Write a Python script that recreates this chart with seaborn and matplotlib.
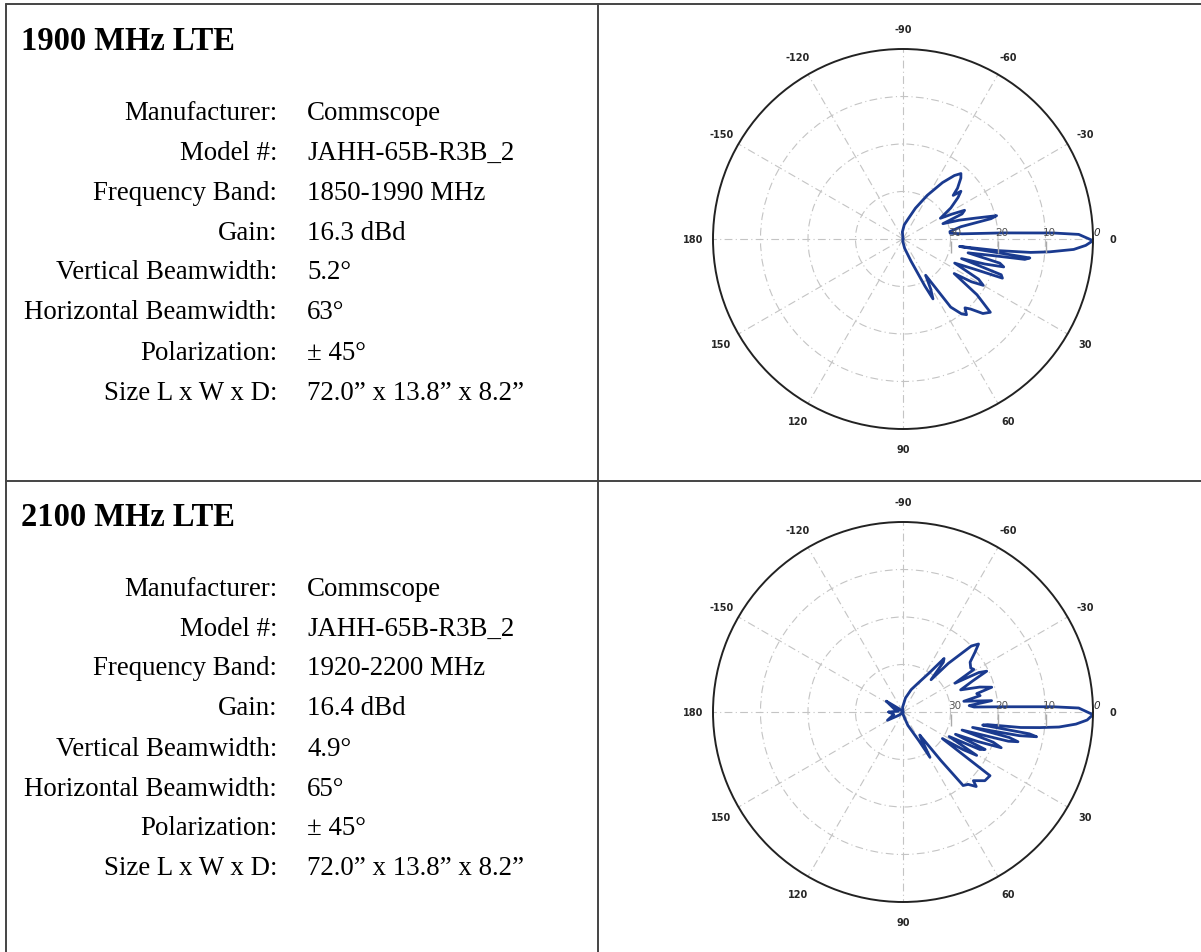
import numpy as np
import seaborn as sns
import matplotlib.pyplot as plt
from matplotlib.lines import Line2D
from matplotlib.transforms import offset_copy

# Antenna spec sheets (two bands)
TITLES = ['1900 MHz LTE', '2100 MHz LTE']
FIELD_NAMES = ['Manufacturer:', 'Model #:', 'Frequency Band:', 'Gain:', 'Vertical Beamwidth:',
               'Horizontal Beamwidth:', 'Polarization:', 'Size L x W x D:']
VALUES_1900 = ['Commscope', 'JAHH-65B-R3B_2', '1850-1990 MHz', '16.3 dBd', '5.2°', '63°', '± 45°',
               '72.0” x 13.8” x 8.2”']
VALUES_2100 = ['Commscope', 'JAHH-65B-R3B_2', '1920-2200 MHz', '16.4 dBd', '4.9°', '65°', '± 45°',
               '72.0” x 13.8” x 8.2”']

# Elevation patterns: angle (deg) and relative gain (dB)
ANGLE_1900 = [-180, -120, -95, -85, -75, -68, -61, -55, -51, -48.5,
              -46.5, -43, -41, -39.5, -37, -33, -29, -27, -25, -23,
              -21, -18.5, -16, -14, -13, -12, -9, -7, -5, -3.5,
              -2.3, -1.5, 0.5, 2, 3.5, 5, 6, 7, 7.5, 8.5,
              9.5, 10.5, 12, 14, 15.5, 17, 18.5, 20, 21.5, 23,
              25, 28, 30, 32, 34, 37, 40, 43, 46, 48,
              50, 52, 55, 58, 61, 63.4, 65, 70, 80, 95,
              120, 180]
GAIN_1900 = [-40, -40, -38.5, -37, -35.5, -33, -29.5, -25.5, -22.8, -21.6,
             -22.3, -24.3, -26, -24.2, -25.5, -28, -31, -28.5, -25.7, -26.5,
             -31, -27.5, -24, -19.7, -21, -27.5, -30, -30, -27.5, -19,
             -8.4, -3, 0, -1.5, -4, -9, -13, -20, -28, -13,
             -14, -21, -26, -19, -18, -22, -27, -18, -17.5, -24,
             -28, -22, -20.5, -23, -27, -20.5, -16, -17, -19.5, -20.5,
             -19.2, -20, -22.5, -31, -28, -25.9, -29, -35, -38, -39.5,
             -40, -40]

ANGLE_2100 = [-180, -170, -160, -147, -140, -120, -95, -80, -70, -62,
              -56, -52.5, -51, -49, -47, -44, -42, -39.7, -36.6, -33,
              -31, -29, -27.5, -26, -24, -21, -18, -15.6, -14, -12,
              -10, -7.3, -5.5, -4, -3, -2, -1.3, 0.8, 2.5, 4,
              5.5, 6.5, 7.5, 8.5, 9.3, 9.8, 10.5, 11.5, 12.5, 13.5,
              14.5, 15.5, 17, 18.5, 20, 21.5, 23, 24.5, 26, 28,
              30.5, 32, 34, 36.2, 40, 44.3, 45.5, 48, 50.7, 52,
              54, 56, 59.2, 61, 70, 90, 120, 140, 152, 165,
              180]
GAIN_2100 = [-37, -39, -38, -35.8, -39, -40, -39, -37, -35, -33,
             -30, -25.8, -26.5, -31, -26, -20, -18.6, -20.3, -22.4, -23,
             -22.6, -27.5, -22, -20.4, -24, -27, -23, -20.6, -24, -23.4,
             -27, -21.2, -26, -25, -19, -8.4, -3, 0, -1.2, -3.5,
             -7, -11, -15, -22, -23, -13, -11.4, -15, -25, -17,
             -15, -17, -27, -20, -18, -23, -28, -21, -22, -29,
             -22, -25, -30, -17.3, -17.5, -19.3, -18, -19.5, -20, -27,
             -34, -33, -28.9, -33, -37, -39.5, -40, -39, -36.3, -38,
             -37]

ANGLE_TICKS = [0, 30, 60, 90, 120, 150, 180, -150, -120, -90, -60, -30]
RING_DB = [-30, -20, -10]
RING_LABELS = ['30', '20', '10']
DB_FLOOR = -40

PATTERN_BLUE = '#1a3a8f'
W, H = 1201, 953


def fx(px):
    return px / W


def fy(py):
    return 1 - py / H


def draw_specs(fig, title, values, top):
    fig.text(fx(21), fy(top + 41), title, fontsize=23.5, fontweight='bold', va='center', ha='left',
             color='black')
    for i, (name, val) in enumerate(zip(FIELD_NAMES, values)):
        y = fy(top + 113 + 40 * i)
        fig.text(fx(277), y, name, fontsize=19.4, ha='right', va='center', color='black')
        fig.text(fx(307), y, val, fontsize=19.4, ha='left', va='center', color='black')


def draw_pattern(fig, angles, gains, cy):
    r_px = 190
    ax = fig.add_axes([fx(903 - r_px), fy(cy + r_px), 2 * r_px / W, 2 * r_px / H], projection='polar')
    ax.set_theta_zero_location('E')
    ax.set_theta_direction(-1)

    theta = np.radians(angles)
    r = np.clip(np.array(gains) - DB_FLOOR, 0, None)
    sns.lineplot(x=theta, y=r, sort=False, estimator=None, ax=ax, color=PATTERN_BLUE, lw=2.0)
    ax.set_xlabel('')
    ax.set_ylabel('')

    ax.set_ylim(0, -DB_FLOOR)
    ax.set_rgrids([db - DB_FLOOR for db in RING_DB], labels=[''] * len(RING_DB))
    ax.set_thetagrids(np.arange(0, 360, 30), labels=[''] * 12)
    ax.grid(True, color='#c4c4c4', lw=0.8, linestyle=(0, (7, 3, 1, 3)))
    ax.spines['polar'].set_color('#222222')
    ax.spines['polar'].set_linewidth(1.4)

    # angle labels outside the circle
    for a in ANGLE_TICKS:
        ax.text(np.radians(a), -DB_FLOOR * 1.105, str(a), ha='center', va='center',
                fontsize=7, fontweight='bold', family='DejaVu Sans', clip_on=False)

    # ring labels and small ticks along the 0 deg axis
    above = offset_copy(ax.transData, fig=fig, x=4, y=7, units='dots')
    below = offset_copy(ax.transData, fig=fig, y=-8, units='dots')
    for db, lab in zip(RING_DB, RING_LABELS):
        ax.text(0, db - DB_FLOOR, lab, transform=above, ha='center', va='center',
                fontsize=7.5, color='#555555', family='DejaVu Sans')
        ax.plot([0], [db - DB_FLOOR], marker='|', ms=8, color='#aaaaaa', transform=below, clip_on=False)
    ax.text(0, -DB_FLOOR, '0', transform=above, ha='center', va='center', fontsize=7.5,
            style='italic', family='DejaVu Sans', clip_on=False)
    return ax


sns.set_style('white')
plt.rcParams['font.family'] = ['Liberation Serif', 'DejaVu Serif']

fig = plt.figure(figsize=(W / 100, H / 100), dpi=100)

# table borders
for (x0, y0, x1, y1) in [(6, 5, W, 5), (6, 482, W, 482), (6, 5, 6, H), (598, 5, 598, H)]:
    fig.add_artist(Line2D([fx(x0), fx(x1)], [fy(y0), fy(y1)], color='#444444', lw=1.4))

draw_specs(fig, TITLES[0], VALUES_1900, 0)
draw_specs(fig, TITLES[1], VALUES_2100, 476)

draw_pattern(fig, ANGLE_1900, GAIN_1900, 240)
draw_pattern(fig, ANGLE_2100, GAIN_2100, 713)

fig.savefig('out.png', dpi=100)
